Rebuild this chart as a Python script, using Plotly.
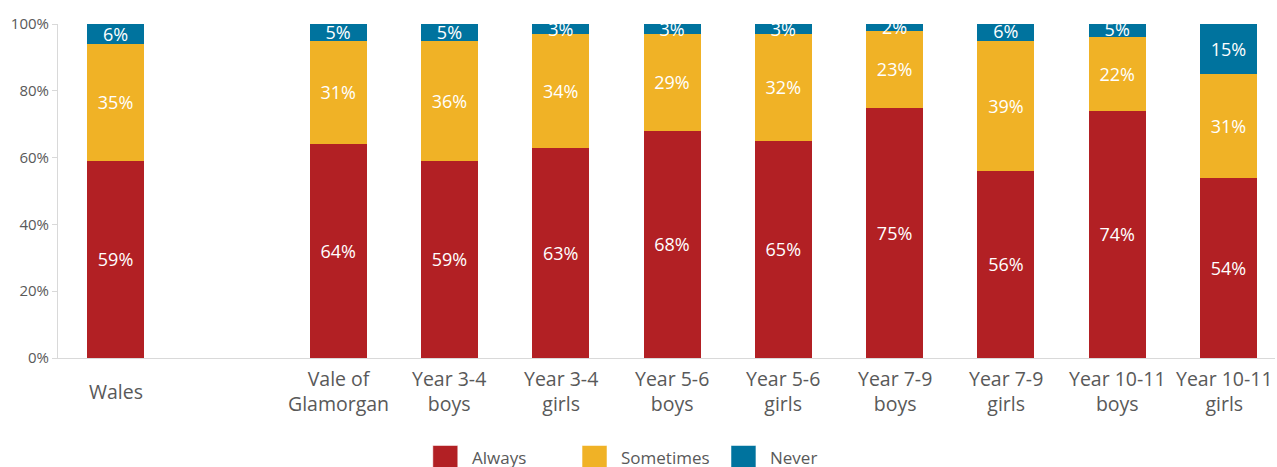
import plotly.graph_objs as go

# data (percent)
categories = ["Wales", " ", "Vale of<br>Glamorgan", "Year 3-4<br>boys", "Year 3-4<br>girls",
              "Year 5-6<br>boys", "Year 5-6<br>girls", "Year 7-9<br>boys", "Year 7-9<br>girls",
              "Year 10-11<br>boys", "Year 10-11<br>girls"]
always = [59, None, 64, 59, 63, 68, 65, 75, 56, 74, 54]
sometimes = [35, None, 31, 36, 34, 29, 32, 23, 39, 22, 31]
never = [6, None, 5, 5, 3, 3, 3, 2, 6, 5, 15]

series = [("Always", always, "#B22024"),
          ("Sometimes", sometimes, "#F0B226"),
          ("Never", never, "#00739E")]

FONT = "Open Sans"
GREY = "#595959"

fig = go.Figure()
for name, vals, col in series:
    fig.add_trace(go.Bar(
        x=categories, y=vals, name=name,
        marker=dict(color=col, line=dict(width=0)),
        text=[("%d%%" % v) if v is not None else "" for v in vals],
        textposition="inside", insidetextanchor="middle",
        textfont=dict(family=FONT, size=18, color="white"),
        showlegend=False,
    ))

fig.update_layout(
    barmode="stack", bargap=0.488,
    width=1277, height=467,
    margin=dict(l=58, r=2, t=24, b=109),
    paper_bgcolor="white", plot_bgcolor="white",
    font=dict(family=FONT, color=GREY),
    uniformtext=dict(minsize=18, mode="show"),
)

fig.update_yaxes(range=[0, 100], dtick=20, ticksuffix="%", showgrid=False, zeroline=False,
                 showline=True, linecolor="#d9d9d9", linewidth=1,
                 ticks="outside", ticklen=5, tickcolor="#d9d9d9",
                 tickfont=dict(family=FONT, size=15, color=GREY))
fig.update_xaxes(range=[-0.517, 10.418], showticklabels=False, showgrid=False, zeroline=False,
                 showline=True, linecolor="#d9d9d9", linewidth=1, layer="above traces")

# category labels, vertically centred under each bar
for i, c in enumerate(categories):
    fig.add_annotation(x=c, xref="x", y=-0.1, yref="paper", text=c, showarrow=False,
                       yanchor="middle", xshift=-4 if i == len(categories) - 1 else 0,
                       font=dict(family=FONT, size=19.5, color=GREY))

# legend with large squares
legend_x = [0.308, 0.4306, 0.553]
for (name, vals, col), lx in zip(series, legend_x):
    fig.add_shape(type="rect", xref="paper", yref="paper",
                  x0=lx, x1=lx + 0.0205, y0=-0.262, y1=-0.34,
                  fillcolor=col, line=dict(width=1, color="rgba(255,255,255,0.5)"))
    fig.add_annotation(x=lx + 0.0304, xref="paper", y=-0.299, yref="paper", text=name,
                       showarrow=False, xanchor="left", yanchor="middle",
                       font=dict(family=FONT, size=17, color=GREY))

# drop the default page margin and scrollbars so the figure fills the window
fig.write_html("out.html", config={"displayModeBar": False},
               post_script="document.body.style.margin='0';document.body.style.overflow='hidden';")
